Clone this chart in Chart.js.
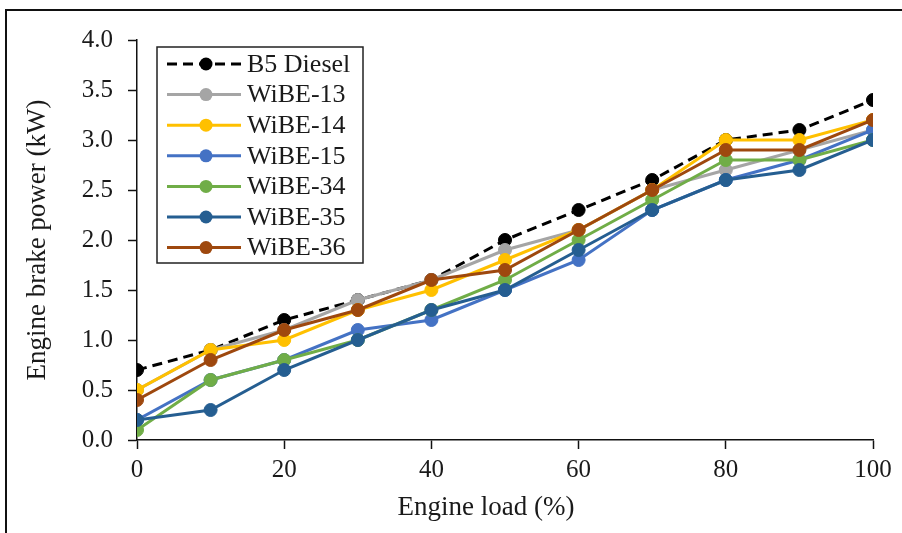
<!DOCTYPE html>
<html>
<head>
<meta charset="utf-8">
<script src="https://cdn.jsdelivr.net/npm/chart.js@4.4.0/dist/chart.umd.min.js"></script>
<style>
  html, body { margin: 0; padding: 0; background: #fff; }
  canvas { display: block; }
</style>
</head>
<body>
<canvas id="chart" width="902" height="533"></canvas>
<script>
// Engine load (%) on x, brake power (kW) on y
const loads = [0, 10, 20, 30, 40, 50, 60, 70, 80, 90, 100];
const b5Diesel = [0.7, 0.9, 1.2, 1.4, 1.6, 2.0, 2.3, 2.6, 3.0, 3.1, 3.4];
const wibe13 = [0.5, 0.9, 1.1, 1.4, 1.6, 1.9, 2.1, 2.5, 2.7, 2.9, 3.1];
const wibe14 = [0.5, 0.9, 1.0, 1.3, 1.5, 1.8, 2.1, 2.5, 3.0, 3.0, 3.2];
const wibe15 = [0.2, 0.6, 0.8, 1.1, 1.2, 1.5, 1.8, 2.3, 2.6, 2.8, 3.1];
const wibe34 = [0.1, 0.6, 0.8, 1.0, 1.3, 1.6, 2.0, 2.4, 2.8, 2.8, 3.0];
const wibe35 = [0.2, 0.3, 0.7, 1.0, 1.3, 1.5, 1.9, 2.3, 2.6, 2.7, 3.0];
const wibe36 = [0.4, 0.8, 1.1, 1.3, 1.6, 1.7, 2.1, 2.5, 2.9, 2.9, 3.2];

const seriesNames = ["B5 Diesel", "WiBE-13", "WiBE-14", "WiBE-15", "WiBE-34", "WiBE-35", "WiBE-36"];
const seriesValues = [b5Diesel, wibe13, wibe14, wibe15, wibe34, wibe35, wibe36];
const seriesColors = ["#000000", "#A5A5A5", "#FFC000", "#4472C4", "#70AD47", "#255E91", "#9E480E"];

const xTitle = "Engine load (%)";
const yTitle = "Engine brake power (kW)";

const serif = "'Liberation Serif', 'Times New Roman', serif";
const textColor = "#1a1a1a";

const datasets = seriesNames.map((name, i) => ({
    label: name,
    data: loads.map((x, j) => ({ x, y: seriesValues[i][j] })),
    borderColor: seriesColors[i],
    backgroundColor: seriesColors[i],
    pointBackgroundColor: seriesColors[i],
    pointBorderColor: seriesColors[i],
    borderWidth: 3,
    borderDash: i === 0 ? [10, 6] : [],
    pointRadius: 6.5,
    pointBorderWidth: 1,
    tension: 0,
    // later series drawn on top, like the original spreadsheet
    order: seriesNames.length - i,
}));

// frame around the whole figure, x title, and the boxed legend inside the plot
const framePlugin = {
    id: "frame",
    beforeDraw(chart) {
        const ctx = chart.ctx;
        ctx.save();
        ctx.fillStyle = "#fff";
        ctx.fillRect(0, 0, chart.width, chart.height);
        ctx.strokeStyle = "#111";
        ctx.lineWidth = 2;
        ctx.strokeRect(6, 10, 1200, 1200);
        ctx.restore();
    },
    afterDraw(chart) {
        const ctx = chart.ctx;
        ctx.save();
        // x axis title sits a little left of the plot centre in the original
        ctx.font = "27px " + serif;
        ctx.fillStyle = textColor;
        ctx.textAlign = "center";
        ctx.textBaseline = "middle";
        ctx.fillText(xTitle, 486, 508);

        const x0 = 157, y0 = 47, w = 206, h = 216;
        ctx.fillStyle = "#fff";
        ctx.fillRect(x0, y0, w, h);
        ctx.strokeStyle = "#222";
        ctx.lineWidth = 1.5;
        ctx.strokeRect(x0, y0, w, h);
        ctx.font = "26px " + serif;
        ctx.textAlign = "left";
        chart.data.datasets.forEach((ds, i) => {
            const y = 64 + i * 30.6;
            ctx.strokeStyle = ds.borderColor;
            ctx.lineWidth = 3;
            ctx.setLineDash(ds.borderDash);
            ctx.beginPath();
            ctx.moveTo(167, y);
            ctx.lineTo(241, y);
            ctx.stroke();
            ctx.setLineDash([]);
            ctx.fillStyle = ds.backgroundColor;
            ctx.beginPath();
            ctx.arc(206, y, 6.5, 0, Math.PI * 2);
            ctx.fill();
            ctx.fillStyle = textColor;
            ctx.fillText(ds.label, 247, y + 1);
        });
        ctx.restore();
    },
};

new Chart(document.getElementById("chart"), {
    type: "line",
    data: { datasets },
    plugins: [framePlugin],
    options: {
        responsive: false,
        animation: false,
        layout: { padding: { top: 40, right: 29, left: 0, bottom: 0 } },
        plugins: {
            legend: { display: false },
            tooltip: { enabled: false },
        },
        scales: {
            x: {
                type: "linear",
                min: 0,
                max: 100,
                afterFit(scale) { scale.height = 93; },
                ticks: {
                    stepSize: 20,
                    color: textColor,
                    font: { family: serif, size: 25 },
                    padding: 6,
                    maxRotation: 0,
                },
                grid: {
                    drawOnChartArea: false,
                    drawTicks: true,
                    tickLength: 9,
                    tickColor: "#111",
                    tickWidth: 1.5,
                },
                border: { display: true, color: "#111", width: 1.5 },
            },
            y: {
                min: 0,
                max: 4,
                afterFit(scale) { scale.width = 137; },
                ticks: {
                    stepSize: 0.5,
                    color: textColor,
                    font: { family: serif, size: 25 },
                    padding: 15,
                    callback: (v) => v.toFixed(1),
                },
                grid: {
                    drawOnChartArea: false,
                    drawTicks: true,
                    tickLength: 9,
                    tickColor: "#111",
                    tickWidth: 1.5,
                },
                border: { display: true, color: "#111", width: 1.5 },
                title: {
                    display: true,
                    text: yTitle,
                    color: textColor,
                    font: { family: serif, size: 27 },
                    padding: { top: 22, bottom: 0 },
                },
            },
        },
    },
});
</script>
</body>
</html>
